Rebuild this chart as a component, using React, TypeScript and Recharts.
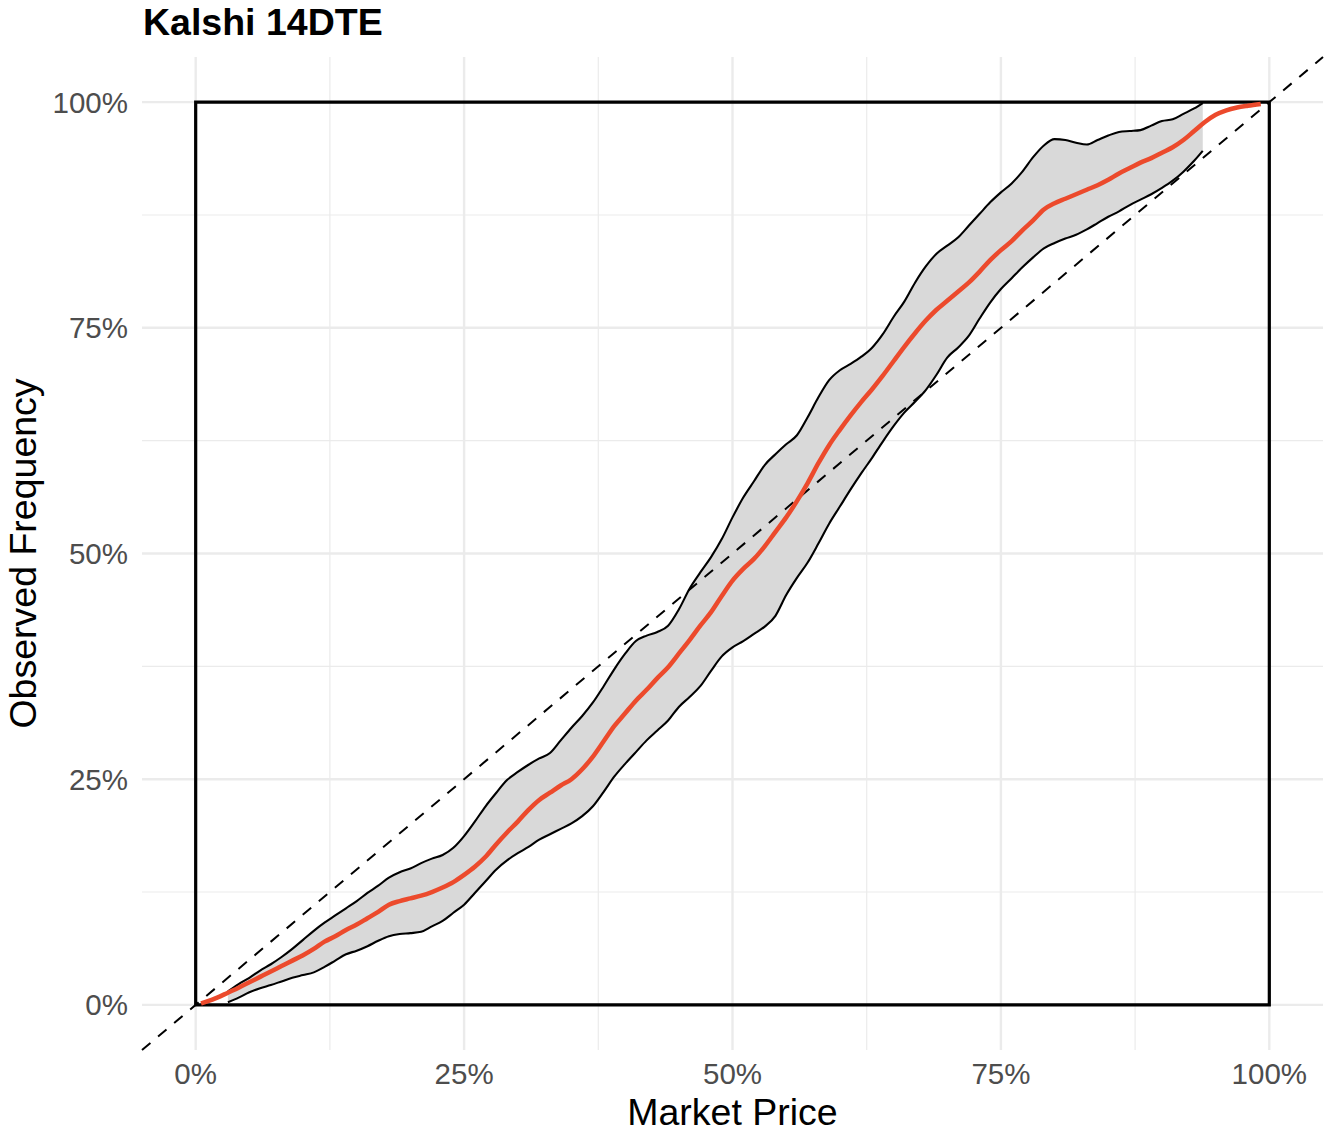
import React from 'react';
import {
  ComposedChart,
  Line,
  Area,
  XAxis,
  YAxis,
  CartesianGrid,
  ReferenceLine,
  ReferenceArea,
} from 'recharts';

const FONT = '"Liberation Sans", Arial, Helvetica, sans-serif';

const TITLE = 'Kalshi 14DTE';
const X_TITLE = 'Market Price';
const Y_TITLE = 'Observed Frequency';

const majorTicks = [0, 25, 50, 75, 100];
const minorTicks = [12.5, 37.5, 62.5, 87.5];
const axisDomain = [-5, 105];
const diagEnds = [-5, 105];
const boxRange = [0, 100];

const meanX = [
  0.5, 1, 2, 3, 4, 5, 6, 7, 8, 9, 10, 11, 12, 13, 14, 15, 16, 17, 18, 19, 20, 21, 22, 23, 24,
  25, 26, 27, 28, 29, 30, 31, 32, 33, 34, 35, 36, 37, 38, 39, 40, 41, 42, 43, 44, 45, 46, 47, 48,
  49, 50, 51, 52, 53, 54, 55, 56, 57, 58, 59, 60, 61, 62, 63, 64, 65, 66, 67, 68, 69, 70, 71, 72,
  73, 74, 75, 76, 77, 78, 79, 80, 81, 82, 83, 84, 85, 86, 87, 88, 89, 90, 91, 92, 93, 94, 95, 96,
  97, 98, 99.2,
];
const meanY = [
  0.15, 0.35, 0.8, 1.35, 1.9, 2.5, 3.1, 3.7, 4.3, 4.9,
  5.5, 6.2, 7.0, 7.6, 8.3, 8.9, 9.6, 10.3, 11.1, 11.5,
  11.8, 12.1, 12.5, 13.0, 13.6, 14.4, 15.3, 16.4, 17.8, 19.1,
  20.3, 21.6, 22.7, 23.5, 24.3, 25.0, 26.1, 27.5, 29.2, 30.9,
  32.3, 33.7, 34.9, 36.2, 37.4, 38.9, 40.4, 42.0, 43.5, 45.3,
  47.0, 48.3, 49.4, 50.8, 52.4, 54.0, 55.8, 57.8, 60.0, 62.0,
  63.7, 65.3, 66.8, 68.2, 69.7, 71.3, 72.9, 74.4, 75.8, 77.0,
  78.0, 79.0, 80.0, 81.2, 82.5, 83.6, 84.6, 85.8, 86.9, 88.1,
  88.8, 89.3, 89.8, 90.3, 90.8, 91.4, 92.1, 92.7, 93.3, 93.8,
  94.4, 95.0, 95.8, 96.8, 97.8, 98.6, 99.1, 99.4, 99.6, 99.8,
];

const bandX = [
  3, 4, 5, 6, 7, 8, 9, 10, 11, 12, 13, 14, 15, 16, 17, 18, 19, 20, 21, 22, 23, 24, 25, 26, 27,
  28, 29, 30, 31, 32, 33, 34, 35, 36, 37, 38, 39, 40, 41, 42, 43, 44, 45, 46, 47, 48, 49, 50, 51,
  52, 53, 54, 55, 56, 57, 58, 59, 60, 61, 62, 63, 64, 65, 66, 67, 68, 69, 70, 71, 72, 73, 74, 75,
  76, 77, 78, 79, 80, 81, 82, 83, 84, 85, 86, 87, 88, 89, 90, 91, 92, 93, 93.8,
];
const bandHi = [
  1.5, 2.3, 3.0, 3.8, 4.5, 5.3, 6.2, 7.2, 8.2, 9.1,
  9.9, 10.7, 11.5, 12.4, 13.2, 14.1, 14.7, 15.1, 15.7, 16.2,
  16.6, 17.4, 18.7, 20.3, 22.0, 23.5, 24.9, 25.8, 26.6, 27.3,
  27.9, 29.3, 30.7, 32.0, 33.5, 35.3, 37.2, 38.9, 40.3, 40.9,
  41.3, 42.0, 43.8, 46.1, 47.9, 49.6, 51.6, 54.0, 56.2, 58.0,
  59.8, 61.0, 62.1, 63.1, 65.1, 67.3, 69.2, 70.3, 71.0, 71.8,
  72.8, 74.3, 76.2, 77.9, 80.0, 81.8, 83.2, 84.1, 85.0, 86.3,
  87.6, 88.9, 90.0, 91.0, 92.3, 93.9, 95.2, 95.9, 95.8, 95.5,
  95.3, 95.8, 96.3, 96.7, 96.8, 96.9, 97.4, 97.9, 98.1, 98.7,
  99.3, 99.9,
];
const bandLo = [
  0.3, 0.8, 1.4, 1.85, 2.2, 2.6, 3.0, 3.3, 3.6, 4.2,
  4.9, 5.6, 6.0, 6.5, 7.1, 7.6, 7.85, 7.95, 8.1, 8.7,
  9.3, 10.2, 11.1, 12.4, 13.7, 15.0, 16.0, 16.8, 17.5, 18.3,
  18.9, 19.5, 20.1, 20.9, 22.0, 23.6, 25.3, 26.7, 28.0, 29.3,
  30.4, 31.5, 33.0, 34.1, 35.3, 37.0, 38.6, 39.6, 40.3, 41.1,
  41.9, 43.1, 45.4, 47.3, 49.0, 51.1, 53.3, 55.2, 57.1, 58.9,
  60.6, 62.4, 64.1, 65.6, 66.8, 68.1, 69.8, 71.7, 72.8, 74.1,
  76.0, 77.8, 79.3, 80.5, 81.7, 82.8, 83.8, 84.4, 84.9, 85.3,
  85.9, 86.6, 87.3, 87.9, 88.6, 89.2, 89.8, 90.5, 91.3, 92.3,
  93.5, 94.6,
];

type Row = { x: number; mean?: number; lo?: number; hi?: number; band?: [number, number] };

function buildData(): Row[] {
  const byX = new Map<number, Row>();
  const row = (x: number) => {
    if (!byX.has(x)) byX.set(x, { x });
    return byX.get(x) as Row;
  };
  meanX.forEach((x, i) => {
    row(x).mean = meanY[i];
  });
  bandX.forEach((x, i) => {
    const r = row(x);
    r.lo = bandLo[i];
    r.hi = bandHi[i];
    r.band = [bandLo[i], bandHi[i]];
  });
  return Array.from(byX.values()).sort((a, b) => a.x - b.x);
}

const chartData = buildData();
const pct = (v: number) => `${v}%`;

export default function App() {
  const tickStyle = { fill: '#4D4D4D', fontSize: 29.5, fontFamily: FONT };
  return (
    <div style={{ position: 'absolute', left: 0, top: 0, width: 1332, height: 1140, background: '#fff' }}>
      <div
        style={{
          position: 'absolute',
          left: 143,
          top: 4,
          fontFamily: FONT,
          fontWeight: 700,
          fontSize: 37.5,
          lineHeight: '37px',
          color: '#000',
          whiteSpace: 'nowrap',
        }}
      >
        {TITLE}
      </div>
      <ComposedChart
        width={1332}
        height={1140}
        data={chartData}
        margin={{ top: 57, right: 9, left: 0, bottom: 0 }}
      >
        <CartesianGrid
          stroke="#EBEBEB"
          strokeWidth={1.2}
          verticalValues={minorTicks}
          horizontalValues={minorTicks}
        />
        <CartesianGrid
          stroke="#EBEBEB"
          strokeWidth={2.4}
          verticalValues={majorTicks}
          horizontalValues={majorTicks}
        />
        <XAxis
          type="number"
          dataKey="x"
          domain={axisDomain}
          ticks={majorTicks}
          allowDataOverflow
          tickFormatter={pct}
          axisLine={false}
          tickLine={false}
          tickMargin={7}
          height={90}
          tick={tickStyle}
          label={{
            value: X_TITLE,
            position: 'insideBottom',
            offset: 15,
            style: { fill: '#000', fontSize: 37.5, fontFamily: FONT },
          }}
        />
        <YAxis
          type="number"
          domain={axisDomain}
          ticks={majorTicks}
          allowDataOverflow
          tickFormatter={pct}
          axisLine={false}
          tickLine={false}
          tickMargin={8}
          width={142}
          tick={tickStyle}
          label={{
            value: Y_TITLE,
            angle: -90,
            position: 'insideLeft',
            offset: 23,
            style: { fill: '#000', fontSize: 37.5, fontFamily: FONT, textAnchor: 'middle' },
          }}
        />
        <Area
          dataKey="band"
          type="monotone"
          fill="#D9D9D9"
          fillOpacity={1}
          stroke="none"
          isAnimationActive={false}
          activeDot={false}
        />
        <Line
          dataKey="hi"
          type="monotone"
          stroke="#000"
          strokeWidth={2.1}
          dot={false}
          activeDot={false}
          connectNulls
          isAnimationActive={false}
        />
        <Line
          dataKey="lo"
          type="monotone"
          stroke="#000"
          strokeWidth={2.1}
          dot={false}
          activeDot={false}
          connectNulls
          isAnimationActive={false}
        />
        <ReferenceLine
          segment={[
            { x: diagEnds[0], y: diagEnds[0] },
            { x: diagEnds[1], y: diagEnds[1] },
          ]}
          stroke="#000"
          strokeWidth={2}
          strokeDasharray="11 10"
        />
        <Line
          dataKey="mean"
          type="monotone"
          stroke="#EC4A2C"
          strokeWidth={4.5}
          dot={false}
          activeDot={false}
          connectNulls
          isAnimationActive={false}
        />
        <ReferenceArea
          x1={boxRange[0]}
          x2={boxRange[1]}
          y1={boxRange[0]}
          y2={boxRange[1]}
          fill="none"
          fillOpacity={0}
          stroke="#000"
          strokeWidth={3.2}
          strokeOpacity={1}
        />
      </ComposedChart>
    </div>
  );
}
